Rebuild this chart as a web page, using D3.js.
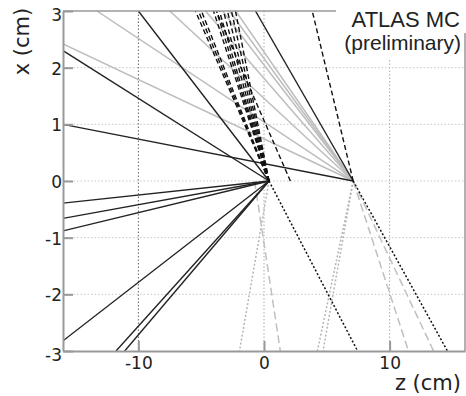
<!DOCTYPE html>
<html><head><meta charset="utf-8">
<script src="https://cdn.jsdelivr.net/npm/d3@7"></script>
<style>
html,body{margin:0;padding:0;background:#fff;}
svg{display:block;font-family:"DejaVu Sans",sans-serif;}
</style></head>
<body><svg id="c" width="466" height="396"></svg>
<script>
// ---- data (cm) ----
const vertex1 = [0.4, 0];
const vertex2 = [7.1, 0];
const xTicks = [-10, 0, 10];
const yTicks = [-3, -2, -1, 0, 1, 2, 3];
const xGrid = [-10, 0, 10];
const yGrid = [-2, -1, 0, 1, 2];
// track end points [z, x]
const blackSolidV1 = [[-10, 3], [-16, 2.3], [-16, -0.39], [-16, -0.66], [-16, -0.88], [-16, -2.82], [-11.78, -3], [-11.09, -3]];
const blackSolidV2 = [[-16, 1.0], [-0.68, 3]];
const graySolidV2 = [[-13.3, 3], [-16, 2.42], [-7.5, 3], [-4.66, 3], [-3.3, 3], [-2.75, 3], [-2.25, 3]];
const blackDashedV1 = [[-5.46, 3], [-5.22, 3], [-4.98, 3], [-4.02, 3], [-3.78, 3], [-3.55, 3], [-3.23, 3], [-2.91, 3], [-2.59, 3], [-2.27, 3]];
const blackDashedV2 = [[3.84, 3]];
const blackDashedOther = [[[2.1, 0], [-3.8, 3]]];
const blackDottedV1 = [[7.45, -3]];
const blackDottedV2 = [[14.6, -3]];
const grayDashedV2 = [[11.5, -3], [13.5, -3]];
const grayDashedOther = [[[-0.75, 0], [1.3, -3]]];
const grayDottedV1 = [[-1.95, -3]];
const grayDottedV2 = [[4.25, -3], [4.7, -3]];

const svg = d3.select('#c');
const L = 63, R = 465, T = 11, B = 351;
const x = d3.scaleLinear().domain([-16, 16]).range([L, R]);
const y = d3.scaleLinear().domain([-3, 3]).range([B, T]);

svg.append('defs').append('clipPath').attr('id', 'clip')
  .append('rect').attr('x', L).attr('y', T).attr('width', R - L).attr('height', B - T);

// grid
const grid = svg.append('g');
grid.selectAll('.gy').data(yGrid).join('line')
  .attr('x1', L).attr('x2', R).attr('y1', d => y(d)).attr('y2', d => y(d))
  .attr('stroke', '#c8c8c8').attr('stroke-width', 1).attr('stroke-dasharray', '1.5,2');
grid.selectAll('.gx').data(xGrid).join('line')
  .attr('y1', T).attr('y2', B).attr('x1', d => x(d)).attr('x2', d => x(d))
  .attr('stroke', d => d === -10 ? '#666' : '#aaa').attr('stroke-width', 1).attr('stroke-dasharray', '1.5,2');

// tracks
const tracks = svg.append('g').attr('clip-path', 'url(#clip)');
function draw(segs, color, dash, w) {
  tracks.append('g').selectAll('line').data(segs).join('line')
    .attr('x1', d => x(d[0][0])).attr('y1', d => y(d[0][1]))
    .attr('x2', d => x(d[1][0])).attr('y2', d => y(d[1][1]))
    .attr('stroke', color).attr('stroke-width', w)
    .attr('stroke-dasharray', dash);
}
const from = (v, arr) => arr.map(p => [v, p]);
draw(from(vertex2, graySolidV2), '#bdbdbd', null, 1.5);
draw(from(vertex1, grayDottedV1), '#b5b5b5', '2,2', 1.5);
draw(from(vertex2, grayDottedV2), '#b5b5b5', '2,2', 1.5);
draw(from(vertex2, grayDashedV2), '#c0c0c0', '8,4', 1.5);
draw(grayDashedOther, '#c0c0c0', '8,4', 1.5);
draw(from(vertex1, blackSolidV1), '#222', null, 1.4);
draw(from(vertex2, blackSolidV2), '#222', null, 1.4);
draw(from(vertex1, blackDashedV1), '#111', '5,3', 1.4);
draw(from(vertex2, blackDashedV2), '#111', '5,3', 1.4);
draw(blackDashedOther, '#111', '5,3', 1.4);
draw(from(vertex1, blackDottedV1), '#111', '2,2', 1.5);
draw(from(vertex2, blackDottedV2), '#111', '2,2', 1.5);

// frame
const fr = svg.append('g').attr('stroke', '#999').attr('fill', 'none');
fr.append('line').attr('x1', L).attr('x2', 336).attr('y1', T).attr('y2', T).attr('stroke-width', 1.5);
fr.append('line').attr('x1', R).attr('x2', R).attr('y1', 33).attr('y2', B).attr('stroke-width', 1.5);

// axes
const ya = svg.append('g').attr('transform', `translate(${L},0)`)
  .call(d3.axisLeft(y).tickValues(yTicks).tickSizeInner(-10).tickSizeOuter(0).tickPadding(1).tickFormat(d3.format('d')));
const xa = svg.append('g').attr('transform', `translate(0,${B})`)
  .call(d3.axisBottom(x).tickValues(xTicks).tickSizeInner(-10).tickSizeOuter(0).tickPadding(6).tickFormat(d3.format('d')));
[ya, xa].forEach(g => {
  g.select('.domain').attr('stroke', '#999').attr('stroke-width', 2);
  g.selectAll('.tick line').attr('stroke', '#999').attr('stroke-width', 2);
  g.selectAll('.tick text').attr('fill', '#222').attr('font-size', 17)
    .attr('font-family', '"DejaVu Sans",sans-serif').text(d => String(d).replace('\u2212', '-'));
});
ya.selectAll('.tick text').attr('dy', d => (d === 3 || d === -3) ? '0.55em' : '0.38em');
xa.selectAll('.tick text').attr('dy', '0.71em');

// axis titles
svg.append('text').attr('x', 461).attr('y', 390).attr('text-anchor', 'end')
  .attr('font-size', 21).attr('fill', '#222').text('z (cm)');
svg.append('text').attr('transform', 'translate(28.5,41.5) rotate(-90)').attr('text-anchor', 'middle')
  .attr('font-size', 21).attr('fill', '#222').text('x (cm)');

// label box
svg.append('rect').attr('x', 337).attr('y', 0).attr('width', 127).attr('height', 30).attr('fill', '#fff');
svg.append('rect').attr('x', 337).attr('y', 0).attr('width', 126).attr('height', 58).attr('fill', '#fff');
svg.append('text').attr('x', 460).attr('y', 26.5).attr('text-anchor', 'end')
  .attr('font-family', '"Liberation Sans",Arial,sans-serif').attr('font-size', 22).attr('fill', '#222').text('ATLAS MC');
svg.append('text').attr('x', 461).attr('y', 50).attr('text-anchor', 'end')
  .attr('font-family', '"Liberation Sans",Arial,sans-serif').attr('font-size', 21).attr('fill', '#222').text('(preliminary)');
</script></body></html>
